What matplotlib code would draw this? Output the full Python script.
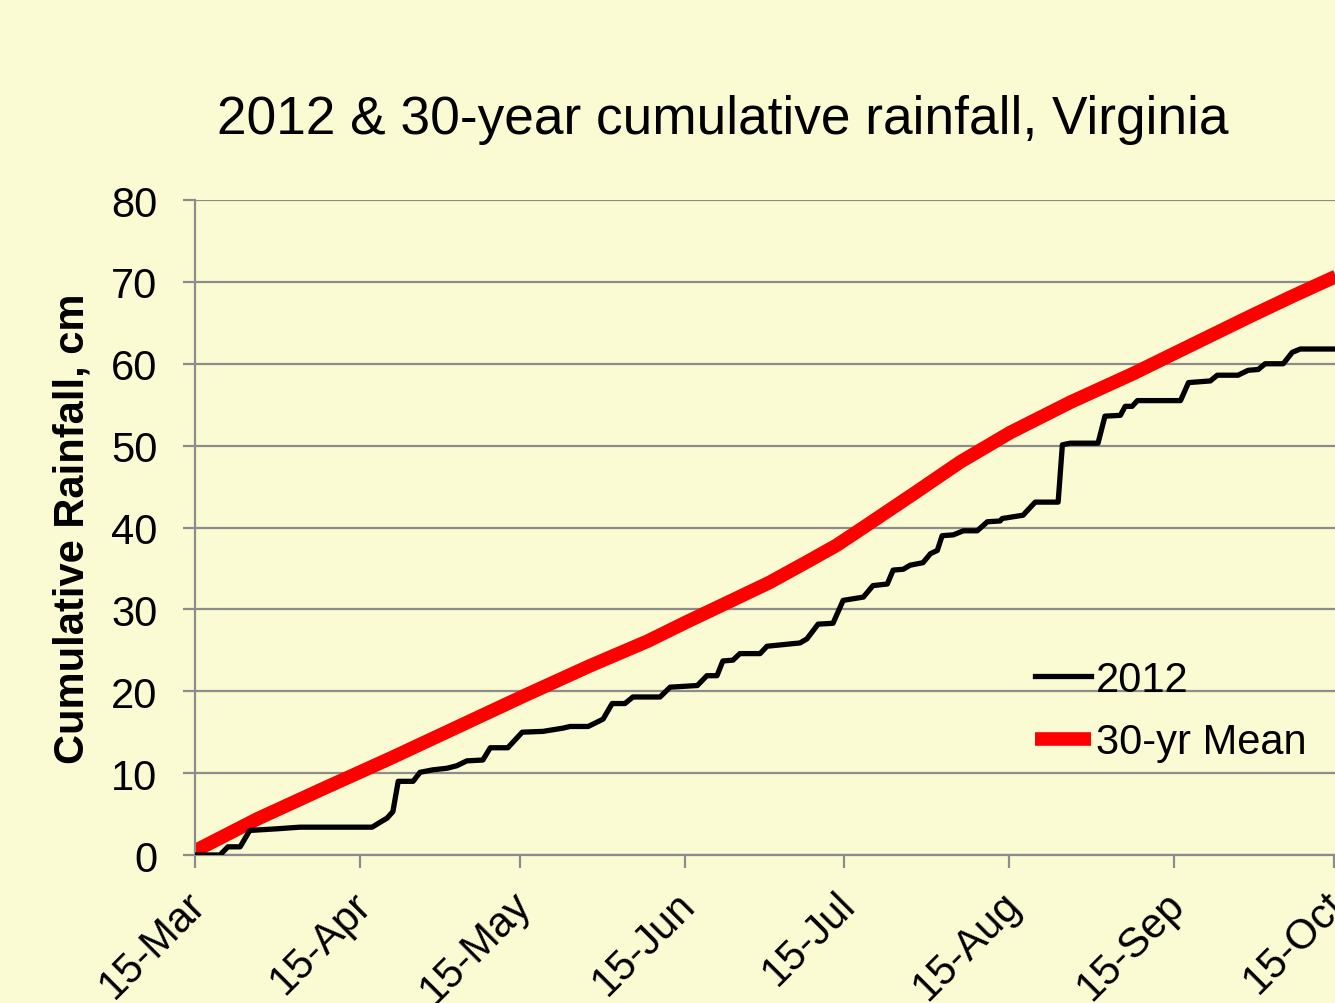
import datetime as dt
import matplotlib
matplotlib.use("Agg")
import matplotlib.pyplot as plt
import matplotlib.dates as mdates
import matplotlib.transforms as mtransforms

# days after 15 March 2012 and cumulative rainfall (cm)
start = dt.datetime(2012, 3, 15)

days_2012 = [0, 4.7, 6.2, 8.5, 10.3, 15.4, 19.7, 33.3, 34.8, 36.1, 37.2, 38.2, 41.0,
             42.3, 44.7, 47.4, 49.2, 51.1, 54.1, 55.5, 58.8, 61.5, 65.4, 69.2, 70.5,
             73.9, 76.7, 78.4, 80.8, 82.3, 87.4, 89.3, 94.4, 96.2, 98.1, 99.2, 101.1,
             102.4, 106.2, 107.5, 113.7, 115.0, 117.1, 119.9, 121.8, 125.6, 127.4,
             130.1, 131.2, 133.1, 134.4, 136.8, 138.2, 139.5, 140.4, 142.5, 144.4,
             147.0, 148.9, 151.3, 151.7, 155.6, 157.9, 162.2, 163.0, 164.5, 169.7,
             171.0, 173.9, 174.8, 176.1, 177.1, 185.2, 186.7, 190.8, 192.1, 196.0,
             197.9, 199.8, 201.1, 204.5, 206.2, 207.7, 214.5]
rain_2012 = [0, 0, 1.0, 1.0, 3.0, 3.2, 3.4, 3.4, 4.0, 4.5, 5.3, 9.0, 9.0,
             10.1, 10.4, 10.6, 10.9, 11.5, 11.6, 13.1, 13.1, 15.0, 15.1, 15.5, 15.7,
             15.7, 16.6, 18.5, 18.5, 19.3, 19.3, 20.5, 20.7, 21.9, 21.9, 23.7, 23.8,
             24.6, 24.6, 25.5, 25.9, 26.4, 28.2, 28.3, 31.1, 31.5, 32.9,
             33.1, 34.8, 34.9, 35.4, 35.7, 36.8, 37.2, 39.0, 39.1, 39.6,
             39.6, 40.7, 40.8, 41.1, 41.5, 43.1, 43.1, 50.1, 50.3, 50.3,
             53.6, 53.7, 54.8, 54.8, 55.5, 55.5, 57.7, 57.9, 58.6, 58.6,
             59.2, 59.3, 60.0, 60.0, 61.4, 61.8, 61.8]

days_mean = [0, 11.7, 24.1, 36.7, 49.2, 61.7, 74.2, 85.0, 92.5, 100.6, 108.0, 115.0,
             120.5, 125.6, 135.0, 143.8, 153.2, 164.5, 176.3, 187.6, 198.3, 206.4, 214.5]
rain_mean = [0.5, 4.4, 8.1, 11.8, 15.6, 19.4, 23.1, 26.1, 28.5, 31.0, 33.3, 35.8,
             37.8, 40.0, 44.1, 48.0, 51.6, 55.3, 58.8, 62.4, 65.8, 68.3, 70.7]

tick_dates = [dt.datetime(2012, m, 15) for m in range(3, 11)]

bg = "#FBFBD3"
grid_col = "#8C8C8C"
plt.rcParams["font.family"] = ["Liberation Sans", "DejaVu Sans"]

fig = plt.figure(figsize=(13.35, 10.04), dpi=100, facecolor=bg)
ax = fig.add_axes([0.146, 0.1474, 0.8547, 0.6524], facecolor=bg)

x12 = [start + dt.timedelta(days=d) for d in days_2012]
xm = [start + dt.timedelta(days=d) for d in days_mean]
ax.plot(x12, rain_2012, color="black", lw=3.8, label="2012", zorder=3,
        solid_joinstyle="round")
ax.plot(xm, rain_mean, color="#FF0000", lw=9.8, label="30-yr Mean", zorder=2,
        solid_capstyle="butt", solid_joinstyle="round")

ax.set_xlim(start, start + dt.timedelta(days=214.4))
ax.set_ylim(0, 80)
ax.set_yticks(range(0, 81, 10))
ax.set_xticks(tick_dates)
ax.xaxis.set_major_formatter(mdates.DateFormatter("%d-%b"))
ax.grid(axis="y", color=grid_col, lw=1.6)
ax.set_axisbelow(True)
for s in ["top", "right"]:
    ax.spines[s].set_visible(False)
for s in ["left", "bottom"]:
    ax.spines[s].set_color(grid_col)
    ax.spines[s].set_linewidth(1.6)
ax.tick_params(axis="both", color=grid_col, width=1.6, length=9, labelsize=30)
ax.tick_params(axis="y", pad=18)
ax.tick_params(axis="x", pad=22)
shift = mtransforms.ScaledTranslation(5 / 100, 0, fig.dpi_scale_trans)
for lab in ax.get_xticklabels():
    lab.set_rotation(45)
    lab.set_ha("right")
    lab.set_va("center")
    lab.set_rotation_mode("anchor")
    lab.set_transform(lab.get_transform() + shift)

ax.set_ylabel("Cumulative Rainfall, cm", fontsize=30, fontweight="bold")
ax.yaxis.set_label_coords(-0.09, 0.5)
fig.text(0.5416, 0.88, "2012 & 30-year cumulative rainfall, Virginia",
         ha="center", va="center", fontsize=38.3)

ax.legend(loc="center left", bbox_to_anchor=(1035 / 1335, 1 - 712 / 1004),
          bbox_transform=fig.transFigure, frameon=False, borderpad=0,
          borderaxespad=0, fontsize=30, handlelength=1.35, handletextpad=0.12,
          labelspacing=0.55)

fig.savefig("out.png", dpi=100, facecolor=bg)
